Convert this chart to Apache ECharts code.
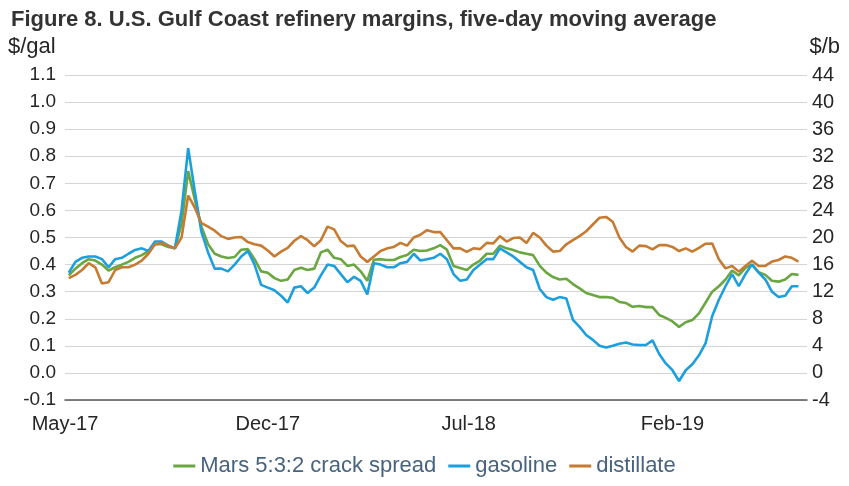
<!DOCTYPE html>
<html>
<head>
<meta charset="utf-8">
<title>U.S. Gulf Coast refinery margins</title>
<script src="https://cdn.jsdelivr.net/npm/echarts@6.0.0/dist/echarts.min.js"></script>
<style>
  html, body { margin: 0; padding: 0; background: #fff; }
  #chart { width: 849px; height: 486px; }
</style>
</head>
<body>
<div id="chart"></div>
<script>
  // weekly samples, first week = 5 May 2017
  const firstWeek = '2017-05-05';
  const seriesNames = ['Mars 5:3:2 crack spread', 'gasoline', 'distillate'];
  const monthLabels = ['2017-05-01', '2017-12-01', '2018-07-01', '2019-02-01'];
  const leftTicks = { min: -0.1, max: 1.1, step: 0.1 };   // $/gal
  const rightTicks = { min: -4, max: 44, step: 4 };       // $/b

  const mars = [
    0.36, 0.385, 0.405, 0.42, 0.415, 0.40, 0.378, 0.39, 0.40, 0.41,
    0.425, 0.435, 0.45, 0.475, 0.475, 0.465, 0.46, 0.55, 0.745, 0.64,
    0.54, 0.475, 0.44, 0.43, 0.424, 0.428, 0.455, 0.457, 0.42, 0.375,
    0.37, 0.35, 0.34, 0.345, 0.38, 0.388, 0.38, 0.385, 0.445, 0.455,
    0.425, 0.42, 0.395, 0.40, 0.375, 0.34, 0.418, 0.42, 0.417, 0.417,
    0.428, 0.435, 0.455, 0.45, 0.452, 0.46, 0.472, 0.455, 0.395, 0.387,
    0.38, 0.40, 0.415, 0.44, 0.44, 0.47, 0.46, 0.454, 0.445, 0.44,
    0.435, 0.395, 0.37, 0.354, 0.345, 0.348, 0.328, 0.312, 0.295, 0.288,
    0.28, 0.28, 0.277, 0.262, 0.258, 0.244, 0.247, 0.243, 0.243, 0.214,
    0.203, 0.19, 0.17, 0.187, 0.195, 0.22, 0.26, 0.30, 0.32, 0.345,
    0.378, 0.36, 0.388, 0.40, 0.372, 0.362, 0.34, 0.337, 0.345, 0.365,
    0.362
  ];
  const gasoline = [
    0.37, 0.41, 0.425, 0.43, 0.43, 0.42, 0.39, 0.42, 0.425, 0.44,
    0.454, 0.46, 0.45, 0.485, 0.485, 0.47, 0.46, 0.60, 0.83, 0.67,
    0.52, 0.445, 0.385, 0.385, 0.375, 0.40, 0.43, 0.45, 0.40, 0.325,
    0.315, 0.305, 0.285, 0.26, 0.315, 0.32, 0.295, 0.315, 0.36, 0.40,
    0.395, 0.365, 0.335, 0.355, 0.34, 0.29, 0.405, 0.40, 0.39, 0.39,
    0.405, 0.41, 0.44, 0.415, 0.42, 0.425, 0.44, 0.42, 0.365, 0.34,
    0.345, 0.38, 0.40, 0.42, 0.42, 0.46, 0.445, 0.43, 0.41, 0.39,
    0.38, 0.31, 0.28, 0.27, 0.28, 0.275, 0.196, 0.17, 0.14, 0.122,
    0.10, 0.094, 0.10, 0.108, 0.112, 0.105, 0.103, 0.103, 0.12, 0.07,
    0.035, 0.01, -0.03, 0.01, 0.032, 0.065, 0.11, 0.21, 0.27, 0.32,
    0.365, 0.32, 0.365, 0.40, 0.37, 0.345, 0.30, 0.28, 0.285, 0.32,
    0.32
  ];
  const distillate = [
    0.35, 0.362, 0.38, 0.405, 0.39, 0.33, 0.335, 0.38, 0.39, 0.39,
    0.40, 0.415, 0.44, 0.475, 0.48, 0.47, 0.46, 0.50, 0.655, 0.61,
    0.553, 0.54, 0.525, 0.505, 0.495, 0.50, 0.502, 0.483, 0.475, 0.47,
    0.452, 0.43, 0.448, 0.462, 0.488, 0.505, 0.49, 0.468, 0.49, 0.54,
    0.53, 0.487, 0.468, 0.47, 0.43, 0.41, 0.43, 0.45, 0.46, 0.465,
    0.48, 0.47, 0.50, 0.51, 0.527, 0.52, 0.52, 0.49, 0.46, 0.46,
    0.447, 0.46, 0.457, 0.48, 0.478, 0.505, 0.485, 0.498, 0.50, 0.48,
    0.517, 0.50, 0.47, 0.448, 0.45, 0.475, 0.49, 0.505, 0.523, 0.548,
    0.573, 0.576, 0.558, 0.50, 0.465, 0.448, 0.47, 0.468, 0.456, 0.472,
    0.472, 0.465, 0.45, 0.46, 0.448, 0.462, 0.477, 0.478, 0.42, 0.386,
    0.395, 0.374, 0.395, 0.414, 0.395, 0.395, 0.411, 0.417, 0.43, 0.425,
    0.411
  ];

  const DAY = 24 * 3600 * 1000;
  const MON = ['Jan', 'Feb', 'Mar', 'Apr', 'May', 'Jun', 'Jul', 'Aug', 'Sep', 'Oct', 'Nov', 'Dec'];
  const utc = d => Date.parse(d + 'T00:00:00Z');
  const t0 = utc(firstWeek);
  const weeks = mars.map((_, i) => t0 + i * 7 * DAY);
  const pairs = arr => arr.map((v, i) => [weeks[i], v]);

  const fontName = 'Liberation Sans, Arial, sans-serif';
  const textColor = '#262626';

  const option = {
    animation: false,
    textStyle: { fontFamily: fontName },
    title: {
      text: 'Figure 8. U.S. Gulf Coast refinery margins, five-day moving average',
      left: 6,
      top: 4,
      textStyle: { fontSize: 22, fontWeight: 'bold', color: '#333', fontFamily: fontName }
    },
    graphic: [
      { type: 'text', left: 8, top: 36, style: { text: '$/gal', fontSize: 22, fill: textColor, fontFamily: fontName } },
      { type: 'text', right: 9, top: 36, style: { text: '$/b', fontSize: 22, fill: textColor, fontFamily: fontName } }
    ],
    legend: {
      bottom: 4,
      left: 'center',
      itemWidth: 22,
      itemHeight: 3,
      itemGap: 12,
      icon: 'rect',
      textStyle: { fontSize: 22, color: '#48637f', fontFamily: fontName },
      data: seriesNames
    },
    grid: { left: 65, right: 42, top: 75, bottom: 86 },
    xAxis: {
      type: 'value',
      min: utc('2017-05-01'),
      max: utc('2019-06-23'),
      axisLine: { show: true, onZero: false, lineStyle: { color: '#595959', width: 1.5 } },
      axisTick: { show: false },
      splitLine: { show: false },
      axisLabel: {
        customValues: monthLabels.map(utc),
        fontSize: 20,
        color: textColor,
        margin: 14,
        formatter: v => {
          const d = new Date(v);
          return MON[d.getUTCMonth()] + '-' + String(d.getUTCFullYear()).slice(2);
        }
      }
    },
    yAxis: [
      {
        type: 'value',
        min: leftTicks.min,
        max: leftTicks.max,
        interval: leftTicks.step,
        axisLine: { show: false },
        axisTick: { show: false },
        splitLine: { lineStyle: { color: '#d4d4d4', width: 1.2 } },
        axisLabel: { fontSize: 19, color: textColor, margin: 9, formatter: v => v.toFixed(1) }
      },
      {
        type: 'value',
        min: rightTicks.min,
        max: rightTicks.max,
        interval: rightTicks.step,
        position: 'right',
        axisLine: { show: false },
        axisTick: { show: false },
        splitLine: { show: false },
        axisLabel: { fontSize: 20, color: textColor, margin: 5 }
      }
    ],
    series: [
      { name: seriesNames[0], type: 'line', data: pairs(mars), color: '#6aa641' },
      { name: seriesNames[1], type: 'line', data: pairs(gasoline), color: '#1d9fdd' },
      { name: seriesNames[2], type: 'line', data: pairs(distillate), color: '#c67b33' }
    ].map(s => Object.assign(s, {
      yAxisIndex: 0,
      symbol: 'none',
      smooth: false,
      lineStyle: { width: 2.6, color: s.color }
    }))
  };

  const myChart = echarts.init(document.getElementById('chart'));
  myChart.setOption(option);
</script>
</body>
</html>
